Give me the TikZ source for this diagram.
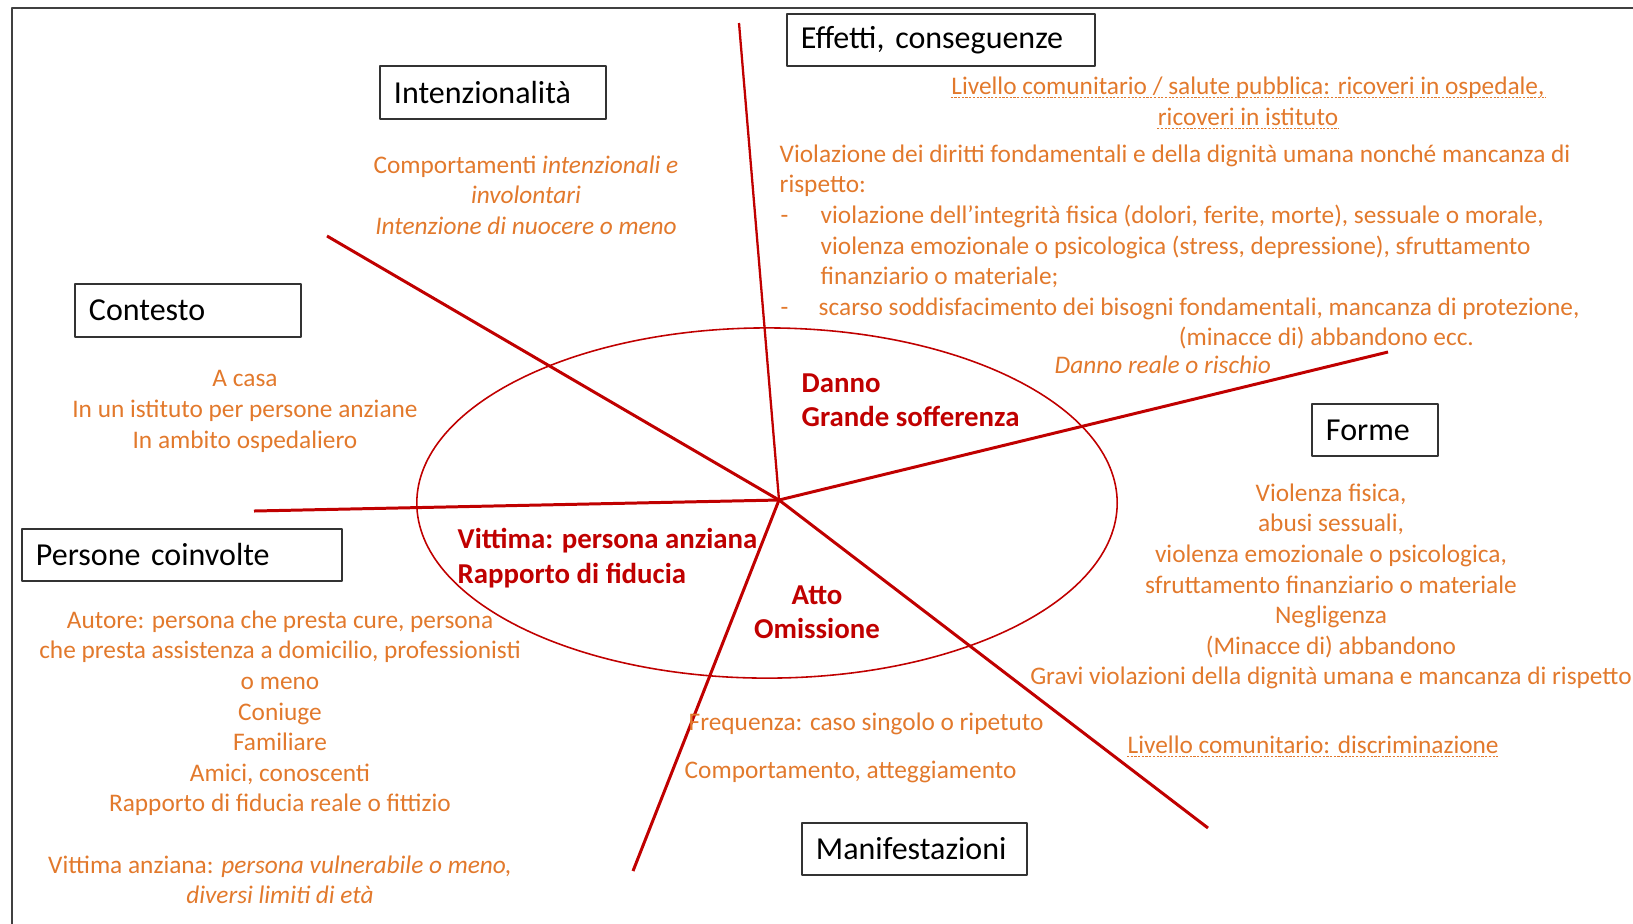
\documentclass[tikz,border=0pt]{standalone}
\usepackage{fontspec}
\setmainfont{Carlito}
\definecolor{arancio}{RGB}{226,121,44}
\definecolor{rosso}{RGB}{192,0,0}
\newcommand\testo{\fontsize{7.2}{8.7}\selectfont}
\newcommand\titolo{\fontsize{9.1}{11}\selectfont}
\newcommand\rossotesto{\fontsize{8.2}{9.8}\selectfont\bfseries}
\begin{document}
\begin{tikzpicture}[
        x=0.01cm, y=-0.01cm,
        line join=round
    ]
    \tikzset{
        box/.style = {rectangle, draw=black!80, line width=0.55pt, fill=white, anchor=north west, align=left, inner xsep=0.14cm, inner ysep=0pt, font=\titolo},
        nota/.style = {text=arancio, font=\testo, inner sep=0pt},
        centro/.style = {text=rosso, font=\rossotesto, inner sep=0pt},
        raggio/.style = {draw=rosso, line width=0.85pt},
        sottolineato/.style = {draw=arancio, line width=0.35pt, dash pattern=on 0.6pt off 0.45pt},
    }
    \useasboundingbox (0,0) rectangle (1633,923);
    \draw[black!75, line width=0.6pt] (12,940) -- (12,8) -- (1650,8);

    % ellisse e raggi
    \draw[rosso, line width=0.45pt] (767,503) ellipse [x radius=3.5cm, y radius=1.75cm];
    \coordinate (hub) at (779,500);
    \coordinate (nord) at (739,23);
    \coordinate (nordovest) at (327,236);
    \coordinate (ovest) at (254,511);
    \coordinate (nordest) at (1388,352);
    \coordinate (sudest) at (1208,828);
    \coordinate (sudovest) at (633,871);
    \foreach \fine in {nordovest,ovest,nordest,sudest,sudovest}
        \draw[raggio] (hub) -- (\fine);
    \draw[raggio, line width=0.65pt] (hub) -- (nord);

    % titoli
    \node[box, text width=2.80cm, minimum height=0.52cm] (effetti) at (786,13) {Effetti, conseguenze};
    \node[box, text width=1.98cm, minimum height=0.53cm] (intenz) at (379,65) {Intenzionalità};
    \node[box, text width=1.98cm, minimum height=0.53cm] (contesto) at (74,283) {Contesto};
    \node[box, text width=2.92cm, minimum height=0.52cm] (persone) at (21,528) {Persone coinvolte};
    \node[box, text width=0.98cm, minimum height=0.52cm] (forme) at (1311,403) {Forme};
    \node[box, text width=1.97cm, minimum height=0.52cm] (manif) at (801,822) {Manifestazioni};

    % testi
    \node[nota, anchor=north, align=center] (intenztesto) at (526,155) {Comportamenti \textit{intenzionali e}\\ \textit{involontari}\\ \textit{Intenzione di nuocere o meno}};
    \node[nota, anchor=north, align=center] (contestotesto) at (245,370) {A casa\\ In un istituto per persone anziane\\ In ambito ospedaliero};
    \node[nota, anchor=north, align=center] (personetesto) at (280,610) {Autore: persona che presta cure, persona\\
        che presta assistenza a domicilio, professionisti\\ o meno\\ Coniuge\\ Familiare\\ Amici, conoscenti\\
        Rapporto di fiducia reale o fittizio\\[8.7pt]
        Vittima anziana: \textit{persona vulnerabile o meno,}\\ \textit{diversi limiti di età}};
    \node[nota, anchor=north, align=center] (formetesto) at (1331,483) {Violenza fisica,\\ abusi sessuali,\\
        violenza emozionale o psicologica,\\ sfruttamento finanziario o materiale\\ Negligenza\\
        (Minacce di) abbandono\\ Gravi violazioni della dignità umana e mancanza di rispetto};
    \node[nota, anchor=base] (liv1) at (1248,94) {Livello comunitario / salute pubblica: ricoveri in ospedale,};
    \node[nota, anchor=base] (liv2) at (1248,125) {ricoveri in istituto};
    \node[nota, anchor=north west, align=left] (violazione) at (779,144) {Violazione dei diritti fondamentali e della dignità umana nonché mancanza di\\
        rispetto:\\
        \makebox[0.41cm][l]{\hspace{0.01cm}-}violazione dell’integrità fisica (dolori, ferite, morte), sessuale o morale,\\
        \hspace*{0.41cm}violenza emozionale o psicologica (stress, depressione), sfruttamento\\
        \hspace*{0.41cm}finanziario o materiale;\\
        \makebox[0.39cm][l]{\hspace{0.01cm}-}scarso soddisfacimento dei bisogni fondamentali, mancanza di protezione,\\
        \hspace*{3.99cm}(minacce di) abbandono ecc.};
    \node[nota, anchor=base west] (rischio) at (1054,373) {\textit{Danno reale o rischio}};
    \node[nota, anchor=base west] (frequenza) at (688,730) {Frequenza: caso singolo o ripetuto};
    \node[nota, anchor=base west] (comport) at (684,778) {Comportamento, atteggiamento};
    \node[nota, anchor=base west] (livcom) at (1127,753) {Livello comunitario: discriminazione};
    \foreach \riga in {liv1,liv2,livcom}
        \draw[sottolineato] ([yshift=-0.9pt]\riga.base west) -- ([yshift=-0.9pt]\riga.base east);

    % centro
    \node[centro, anchor=north west, align=left] (danno) at (801,373) {Danno\\ Grande sofferenza};
    \node[centro, anchor=north west, align=left] (vittima) at (457,528) {Vittima: persona anziana\\ Rapporto di fiducia};
    \node[centro, anchor=north, align=center] (atto) at (817,585) {Atto\\ Omissione};
\end{tikzpicture}
\end{document}
